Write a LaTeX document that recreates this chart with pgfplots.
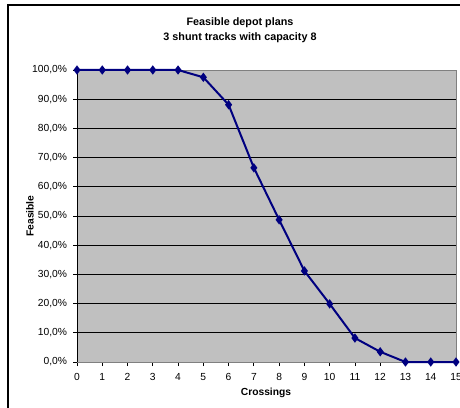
\documentclass[border=0pt]{standalone}
\usepackage{fontspec}
\setmainfont{Liberation Sans}
\usepackage{pgfplots}
\pgfplotsset{compat=1.18}

\definecolor{plotbg}{RGB}{192,192,192}
\definecolor{seriesnavy}{RGB}{0,0,128}

\begin{document}
\begin{tikzpicture}
% page area
\useasboundingbox (0pt,0pt) rectangle (345pt,305.25pt);
% chart frame
\draw[line width=0.9pt,black] (6pt,-10pt) -- (6pt,301.5pt) -- (360pt,301.5pt);

\begin{axis}[
  at={(57.75pt,33.75pt)}, anchor=south west,
  scale only axis,
  width=284.25pt, height=219pt,
  xmin=0, xmax=15, ymin=0, ymax=100,
  xtick={0,1,...,15},
  ytick={0,10,...,100},
  xtick pos=bottom, ytick pos=left,
  tick align=outside,
  major tick length=3pt,
  tick style={black, line width=0.6pt},
  axis background/.style={fill=plotbg},
  axis line style={draw=gray, line width=0.6pt},
  ymajorgrids,
  grid style={black, line width=0.6pt},
  /pgf/number format/assume math mode=true,
  ticklabel style={font=\fontsize{7.7}{9}\selectfont},
  yticklabel={\pgfmathprintnumber[fixed,fixed zerofill,precision=1,use comma]{\tick}\%},
  xticklabel style={yshift=-2pt},
  yticklabel style={xshift=-1pt},
  clip=false,
]
\addplot[seriesnavy, line width=1.5pt, mark=diamond*, mark size=2.3pt,
  mark options={solid, fill=seriesnavy}]
coordinates {
  (0,100) (1,100) (2,100) (3,100) (4,100)
  (5,97.5) (6,88.1) (7,66.5) (8,48.7) (9,31.2)
  (10,19.9) (11,8.2) (12,3.5) (13,0) (14,0) (15,0)
};
\draw[black, line width=0.6pt] (rel axis cs:0,0) -- (rel axis cs:0,1);
\end{axis}

% titles and axis labels
\node[font=\fontsize{8.1}{11.25}\selectfont\bfseries, align=center]
  at (180pt,282.5pt) {Feasible depot plans\\3 shunt tracks with capacity 8};
\node[font=\fontsize{7.7}{9}\selectfont\bfseries, rotate=90]
  at (22.5pt,143.25pt) {Feasible};
\node[font=\fontsize{7.7}{9}\selectfont\bfseries]
  at (199.5pt,10.5pt) {Crossings};
\end{tikzpicture}
\end{document}
